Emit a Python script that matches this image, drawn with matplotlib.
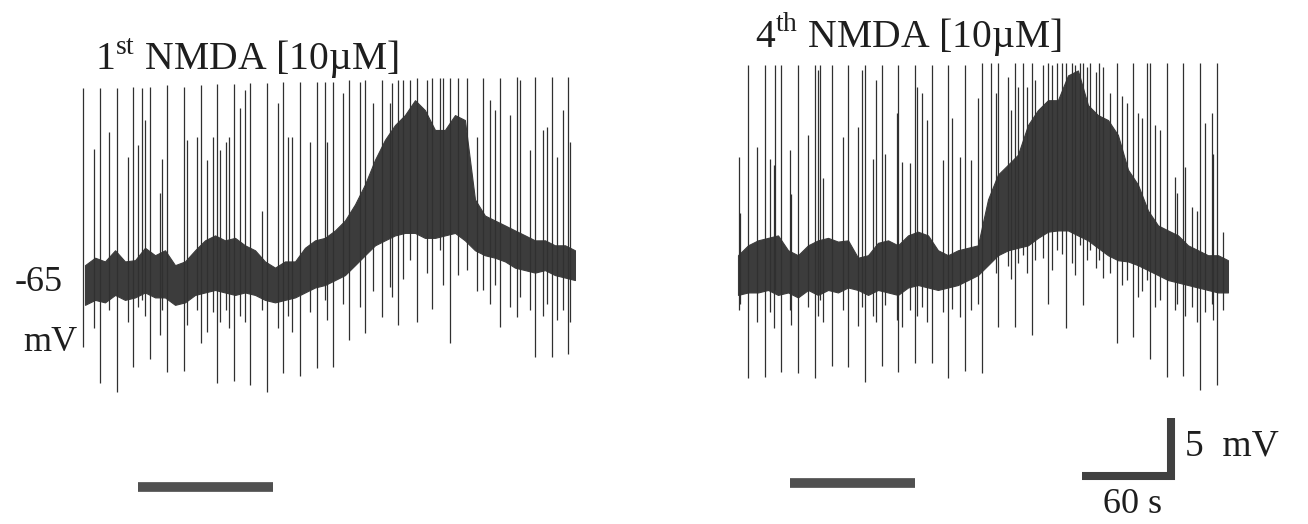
import matplotlib
matplotlib.use('Agg')
import matplotlib.pyplot as plt

plt.rcParams['font.family'] = ['Liberation Serif', 'DejaVu Serif']
plt.rcParams['mathtext.fontset'] = 'custom'
plt.rcParams['mathtext.rm'] = 'Liberation Serif'

# time grid of the envelope knots (s)
band_t = [0, 6.5, 12.9, 19.4, 25.8, 32.3, 38.7, 45.2, 51.6, 58.1, 64.5, 71.0, 77.4, 83.9,
          90.3, 96.8, 103.2, 109.7, 116.1, 122.6, 129.0, 135.5, 141.9, 148.4, 154.8, 161.3,
          167.7, 174.2, 180.6, 187.1, 193.5, 200.0, 206.4, 212.9, 219.3, 225.8, 232.2, 238.7,
          245.1, 251.6, 258.0, 264.5, 271.0, 277.4, 283.9, 290.3, 296.8, 303.2, 309.7, 316.1]

# ---- 1st NMDA application (mV) ----
band1_hi = [-63.4, -62.8, -63.1, -62.2, -63.1, -63.0, -62.0, -62.6, -62.2, -63.4, -63.1, -62.2,
            -61.4, -61.0, -61.4, -61.2, -61.8, -62.2, -63.1, -63.6, -63.1, -63.1, -62.0, -61.4,
            -61.2, -60.6, -59.8, -58.5, -56.9, -54.9, -53.3, -52.1, -51.3, -50.1, -50.9, -52.5,
            -52.5, -51.3, -51.7, -58.1, -59.4, -59.8, -60.2, -60.6, -61.0, -61.4, -61.4, -61.8,
            -61.8, -62.2]
band1_lo = [-66.6, -66.2, -66.4, -65.8, -66.2, -66.0, -65.6, -66.0, -66.0, -66.6, -66.4, -65.8,
            -65.6, -65.4, -65.6, -65.8, -65.6, -65.8, -66.2, -66.4, -66.2, -66.0, -65.6, -65.2,
            -65.0, -64.6, -64.2, -63.4, -62.6, -61.8, -61.4, -61.0, -60.8, -60.8, -61.2, -61.2,
            -61.0, -60.8, -61.4, -62.2, -62.6, -62.8, -63.1, -63.6, -63.8, -64.0, -63.8, -64.2,
            -64.4, -64.6]
spk1_t = [-1.0, 9.7, 20.6, 31.0, 36.8, 41.9, 52.9, 63.9, 74.8, 85.2, 96.1, 106.5, 117.4, 127.8,
          138.7, 149.7, 154.8, 160.0, 170.3, 180.7, 191.6, 201.9, 209.7, 214.2, 223.9, 229.0,
          235.5, 246.5, 256.8, 267.8, 278.7, 290.3, 301.3, 311.6]
spk1_top = [-49.1, -49.1, -49.1, -49.0, -49.1, -49.0, -48.9, -49.0, -48.9, -48.8, -48.8, -48.7,
            -48.7, -48.6, -48.6, -48.6, -48.6, -48.6, -48.5, -48.5, -48.5, -48.5, -48.5, -48.3,
            -48.3, -48.3, -48.3, -48.3, -48.3, -48.3, -48.2, -48.2, -48.2, -48.2]
spk1_bot = [-70.0, -72.9, -73.6, -71.6, -66.2, -71.0, -72.0, -71.9, -69.7, -72.9, -72.7, -73.1,
            -73.6, -72.1, -72.3, -71.7, -66.2, -71.6, -69.4, -68.9, -67.6, -68.2, -63.0, -68.0,
            -66.9, -62.2, -69.7, -63.8, -65.4, -68.4, -67.6, -70.8, -70.8, -70.6]
evt1_t = [5.8, 15.5, 27.7, 34.2, 38.7, 48.4, 49.7, 65.8, 72.3, 78.7, 82.6, 87.1, 91.0, 92.9,
          100.0, 103.2, 114.2, 124.5, 131.0, 133.6, 145.2, 156.1, 166.5, 177.4, 185.8, 196.8,
          198.1, 205.2, 220.7, 231.0, 240.7, 252.9, 261.3, 264.5, 274.2, 280.7, 287.1, 295.5,
          298.1, 304.5, 308.4, 312.9]
evt1_top = [-54.0, -52.7, -54.7, -53.7, -51.7, -57.6, -54.8, -53.3, -53.1, -54.9, -53.1, -54.1,
            -53.5, -53.1, -50.7, -49.3, -59.0, -50.3, -53.1, -53.1, -53.5, -53.5, -49.5, -48.6,
            -50.3, -50.3, -48.7, -48.5, -48.5, -48.3, -48.3, -53.1, -50.1, -50.9, -51.3, -48.5,
            -54.1, -52.5, -52.3, -54.7, -50.9, -53.5]
evt1_bot = [-68.5, -67.0, -68.0, -66.8, -67.5, -69.0, -67.0, -68.2, -67.0, -68.8, -67.2, -68.0,
            -67.0, -68.5, -67.5, -68.0, -67.0, -68.5, -67.5, -68.8, -67.2, -67.8, -66.5, -66.8,
            -65.5, -65.2, -66.0, -64.5, -64.0, -65.0, -64.2, -65.5, -66.5, -65.0, -66.8, -66.0,
            -67.0, -67.5, -66.5, -67.8, -67.0, -68.0]

# ---- 4th NMDA application (mV) ----
band4_hi = [-62.6, -61.8, -61.4, -61.2, -61.0, -62.2, -62.6, -61.8, -61.4, -61.2, -61.5, -61.4,
            -62.8, -62.6, -61.6, -61.4, -61.8, -61.0, -60.7, -61.0, -62.2, -62.6, -62.2, -62.0,
            -61.8, -58.1, -56.1, -55.3, -54.5, -52.1, -50.9, -50.1, -50.1, -48.1, -47.7, -50.5,
            -51.3, -51.7, -52.9, -55.7, -56.9, -59.0, -60.2, -60.6, -61.0, -61.8, -62.2, -62.6,
            -62.6, -63.0]
band4_lo = [-65.8, -65.6, -65.6, -65.4, -65.8, -65.6, -66.0, -65.4, -65.8, -65.4, -65.6, -65.2,
            -65.4, -65.8, -65.4, -65.6, -65.8, -65.2, -65.0, -65.2, -65.4, -65.2, -65.0, -64.6,
            -64.2, -63.4, -62.6, -62.2, -62.0, -61.8, -61.2, -60.7, -60.6, -60.6, -61.0, -61.4,
            -62.0, -62.6, -63.0, -63.1, -63.4, -63.8, -64.2, -64.6, -64.8, -65.0, -65.2, -65.4,
            -65.6, -65.6]
spk4_t = [6.5, 17.4, 23.9, 27.7, 38.7, 49.7, 52.9, 60.6, 71.0, 81.9, 92.9, 103.2, 114.2, 125.2,
          135.5, 146.5, 157.4, 163.2, 167.8, 178.7, 183.9, 189.7, 200.0, 205.8, 211.6, 220.7,
          222.6, 227.1, 232.9, 244.5, 254.9, 263.9, 265.8, 276.8, 287.1, 298.1, 309.1]
spk4_top = [-47.3] * 16 + [-47.1] * 21
spk4_bot = [-72.5, -72.4, -65.4, -72.0, -72.1, -72.5, -66.2, -71.5, -71.6, -72.8, -71.5, -72.0,
            -71.3, -71.3, -72.5, -71.9, -72.1, -63.0, -68.4, -68.4, -62.6, -69.0, -66.5, -62.2,
            -68.5, -61.8, -66.6, -62.2, -63.0, -69.7, -69.2, -64.6, -71.0, -72.4, -72.3, -73.5,
            -73.1]
evt4_t = [0.6, 1.3, 12.3, 20.6, 23.2, 33.6, 34.2, 45.2, 51.6, 54.8, 67.7, 77.4, 80.0, 87.1,
          89.0, 94.8, 102.6, 105.8, 111.0, 115.5, 118.7, 121.9, 132.3, 138.1, 143.2, 150.3,
          154.8, 166.5, 174.2, 176.1, 180.7, 186.5, 191.6, 196.8, 202.6, 209.0, 215.5, 217.4,
          225.2, 231.0, 235.5, 240.0, 247.8, 251.0, 258.1, 260.7, 269.0, 272.3, 282.0, 283.2,
          288.4, 292.9, 296.1, 301.3, 305.8, 306.5, 312.9]
evt4_top = [-54.7, -59.2, -53.9, -54.8, -55.3, -54.1, -57.7, -52.9, -47.7, -56.4, -53.1, -52.3,
            -47.7, -54.8, -48.5, -54.4, -51.1, -55.1, -55.2, -49.0, -49.5, -51.7, -54.9, -51.5,
            -54.7, -54.9, -49.9, -49.5, -48.2, -50.9, -49.0, -49.0, -48.5, -47.3, -47.3, -47.1,
            -47.1, -47.3, -47.4, -47.8, -47.4, -49.5, -49.8, -50.3, -51.1, -51.5, -52.1, -52.5,
            -56.3, -57.6, -55.5, -58.7, -59.0, -51.9, -51.1, -54.4, -60.7]
evt4_bot = [-67.0, -66.5, -68.0, -67.2, -68.5, -67.0, -68.2, -66.8, -67.5, -68.0, -67.0, -68.3,
            -66.8, -67.5, -68.0, -66.6, -67.8, -68.4, -67.0, -67.5, -66.8, -68.0, -67.2, -66.9,
            -67.6, -67.0, -66.5, -64.0, -63.5, -64.5, -63.2, -64.0, -63.0, -62.8, -63.8, -62.5,
            -63.2, -64.2, -63.0, -63.6, -64.4, -64.0, -65.0, -64.6, -66.0, -65.5, -66.8, -66.2,
            -67.0, -66.5, -67.5, -66.8, -68.0, -67.2, -66.5, -67.8, -67.0]

# drug application bars (s)
drug1 = [34.2, 121.3]
drug4 = [33.5, 114.2]

ink = '#303030'
txt = '#1e1e1e'
fig = plt.figure(figsize=(13.08, 5.24), dpi=100)
ax1 = fig.add_axes([0.0, 0.0, 0.5, 1.0])
ax2 = fig.add_axes([0.5, 0.0, 0.5, 1.0])


def draw_trace(ax, hi, lo, st, stop, sbot, et, etop, ebot, drug, drug_v):
    ax.fill_between(band_t, lo, hi, color='#3c3c3c', lw=0.8, edgecolor='#3c3c3c')
    ax.vlines(et, ebot, etop, color=ink, lw=0.9)
    ax.vlines(st, sbot, stop, color=ink, lw=0.9)
    ax.plot(drug, [drug_v, drug_v], color='#505050', lw=7, solid_capstyle='butt')
    ax.set_ylim(-84.27, -42.02)
    ax.axis('off')


draw_trace(ax1, band1_hi, band1_lo, spk1_t, spk1_top, spk1_bot,
           evt1_t, evt1_top, evt1_bot, drug1, -81.3)
draw_trace(ax2, band4_hi, band4_lo, spk4_t, spk4_top, spk4_bot,
           evt4_t, evt4_top, evt4_bot, drug4, -81.0)
ax1.set_xlim(-54.84, 367.1)
ax2.set_xlim(-54.19, 367.74)

ax1.text(6.5, -47.7, r'1$^{\mathrm{st}}$ NMDA [10µM]', fontsize=28.5, ha='left', va='baseline', color=txt)
ax2.text(11.0, -45.8, r'4$^{\mathrm{th}}$ NMDA [10µM]', fontsize=28.5, ha='left', va='baseline', color=txt)
ax1.text(-14.2, -64.8, '-65', fontsize=26, ha='right', va='center', color=txt)
ax1.text(-5.2, -69.6, 'mV', fontsize=26, ha='right', va='center', color=txt)

# scale bar: 60 s, 5 mV
ax2.plot([222, 282], [-80.4, -80.4], color='#404040', lw=5.8, solid_capstyle='butt')
ax2.plot([279.5, 279.5], [-80.7, -75.7], color='#404040', lw=5.8, solid_capstyle='butt')
ax2.text(288.4, -78.0, '5  mV', fontsize=27, ha='left', va='center', color=txt)
ax2.text(254.8, -82.7, '60 s', fontsize=26, ha='center', va='center', color=txt)

fig.savefig('out.png', dpi=100)
